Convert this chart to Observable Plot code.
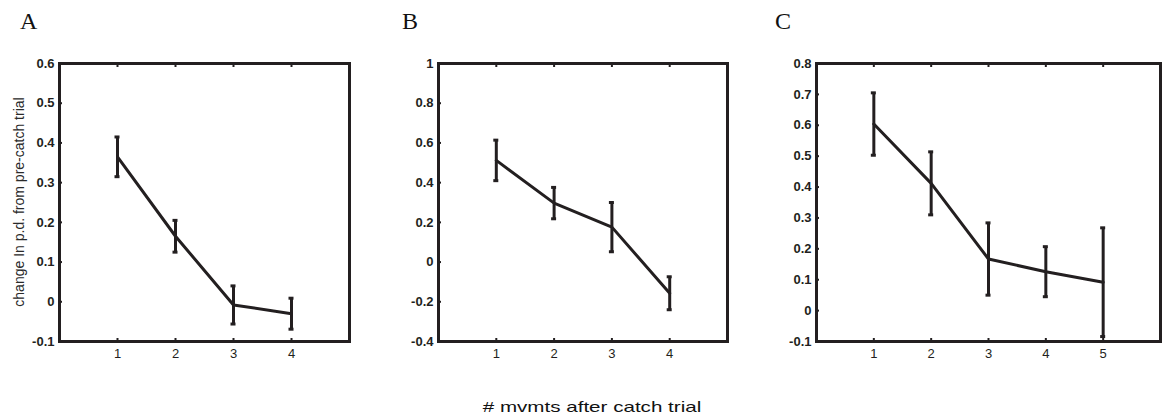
<!DOCTYPE html>
<html>
<head>
<meta charset="utf-8">
<script src="https://cdn.jsdelivr.net/npm/d3@7"></script>
<script src="https://cdn.jsdelivr.net/npm/@observablehq/plot@0.6"></script>
<style>
  body { margin: 0; background: #fff; }
  #fig { position: relative; width: 1163px; height: 419px; overflow: hidden; background: #fff; }
  .panel { position: absolute; top: 0; }
  .panel text { font-family: "Liberation Sans", Arial, sans-serif; font-size: 13px; }
  .panel g[aria-label="y-axis tick label"] text { font-weight: bold; }
  .letter { position: absolute; font-family: "Liberation Serif", serif; font-size: 24px; line-height: 1; color: #111; }
  .ylabel { position: absolute; left: 19px; top: 202px; white-space: nowrap;
            font-family: "Liberation Sans", Arial, sans-serif; font-size: 14px; line-height: 1; color: #2a2a2a;
            transform: translate(-50%, -50%) rotate(-90deg); }
  .xlabel { position: absolute; left: 592px; top: 400px; white-space: nowrap;
            font-family: "Liberation Sans", Arial, sans-serif; font-size: 14.5px; line-height: 1; color: #111;
            transform: translateX(-50%) scaleX(1.42); }
</style>
</head>
<body>
<div id="fig"></div>
<script>
const ink = "#231f20";

// Panel A: change in p.d. per movement after the catch trial
const stepsA = [1, 2, 3, 4];
const meanA = [0.365, 0.165, -0.008, -0.030];
const errA = [0.050, 0.040, 0.048, 0.039];
const yTicksA = [-0.1, 0, 0.1, 0.2, 0.3, 0.4, 0.5, 0.6];

// Panel B
const stepsB = [1, 2, 3, 4];
const meanB = [0.512, 0.297, 0.176, -0.157];
const errB = [0.102, 0.079, 0.124, 0.083];
const yTicksB = [-0.4, -0.2, 0, 0.2, 0.4, 0.6, 0.8, 1];

// Panel C
const stepsC = [1, 2, 3, 4, 5];
const meanC = [0.604, 0.412, 0.167, 0.126, 0.092];
const errC = [0.101, 0.102, 0.117, 0.081, 0.176];
const yTicksC = [-0.1, 0, 0.1, 0.2, 0.3, 0.4, 0.5, 0.6, 0.7, 0.8];

const panelLetters = ["A", "B", "C"];
const yTitle = "change In p.d. from pre-catch trial";
const xTitle = "# mvmts after catch trial";

const fmt = d => String(Math.round(d * 10) / 10);

function panel({steps, mean, err, xDomain, yDomain, yTicks, width, marginLeft, marginRight}) {
  const rows = steps.map((s, i) => ({step: s, mean: mean[i], lo: mean[i] - err[i], hi: mean[i] + err[i]}));
  return Plot.plot({
    width,
    height: 380,
    marginTop: 63,
    marginBottom: 39,
    marginLeft,
    marginRight,
    x: {domain: xDomain},
    y: {domain: yDomain},
    style: {fontFamily: "Liberation Sans, Arial, sans-serif", fontSize: "13px", color: ink,
            background: "transparent", overflow: "visible"},
    marks: [
      Plot.axisY({ticks: yTicks, tickSize: -3, tickPadding: 8, tickFormat: fmt, label: null,
                  fontSize: 13, fontWeight: "bold", strokeWidth: 2}),
      Plot.axisX({ticks: steps, anchor: "bottom", tickSize: -3, tickPadding: 10, tickFormat: d => String(d),
                  label: null, fontSize: 13, strokeWidth: 2}),
      Plot.axisX({ticks: steps, anchor: "top", tickSize: -3, tickFormat: () => "", label: null, strokeWidth: 2}),
      Plot.ruleX(rows, {x: "step", y1: "lo", y2: "hi", stroke: ink, strokeWidth: 3}),
      Plot.ruleY(rows, {y: "hi", x1: "step", x2: "step", insetLeft: -2.5, insetRight: -2.5, stroke: ink, strokeWidth: 3}),
      Plot.ruleY(rows, {y: "lo", x1: "step", x2: "step", insetLeft: -2.5, insetRight: -2.5, stroke: ink, strokeWidth: 3}),
      Plot.line(rows, {x: "step", y: "mean", stroke: ink, strokeWidth: 3, strokeLinejoin: "miter"}),
      Plot.frame({stroke: ink, strokeWidth: 3})
    ]
  });
}

const fig = document.getElementById("fig");

const specs = [
  {left: 0, letterX: 20, steps: stepsA, mean: meanA, err: errA, xDomain: [0, 5], yDomain: [-0.1, 0.6],
   yTicks: yTicksA, width: 370, marginLeft: 59, marginRight: 21},
  {left: 380, letterX: 402, steps: stepsB, mean: meanB, err: errB, xDomain: [0, 5], yDomain: [-0.4, 1],
   yTicks: yTicksB, width: 370, marginLeft: 58, marginRight: 23},
  {left: 760, letterX: 775, steps: stepsC, mean: meanC, err: errC, xDomain: [0, 6], yDomain: [-0.1, 0.8],
   yTicks: yTicksC, width: 403, marginLeft: 56, marginRight: 3}
];

specs.forEach((s, i) => {
  const chart = panel(s);
  chart.classList.add("panel");
  chart.style.left = s.left + "px";
  fig.appendChild(chart);

  const letter = document.createElement("div");
  letter.className = "letter";
  letter.textContent = panelLetters[i];
  letter.style.left = s.letterX + "px";
  letter.style.top = "9px";
  fig.appendChild(letter);
});

const yl = document.createElement("div");
yl.className = "ylabel";
yl.textContent = yTitle;
fig.appendChild(yl);

const xl = document.createElement("div");
xl.className = "xlabel";
xl.textContent = xTitle;
fig.appendChild(xl);
</script>
</body>
</html>
